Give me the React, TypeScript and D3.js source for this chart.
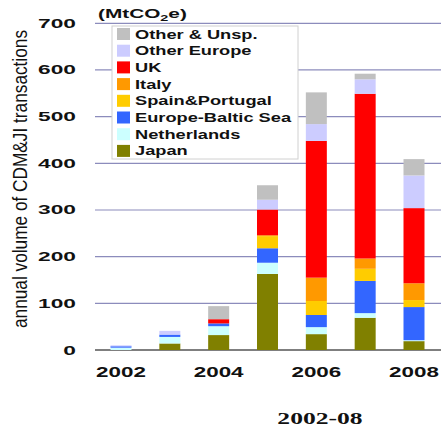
import * as d3 from "d3";

const years = [2002, 2003, 2004, 2005, 2006, 2007, 2008];
const xTicks = [2002, 2004, 2006, 2008];
const yTicks = [0, 100, 200, 300, 400, 500, 600, 700];

// stacking order bottom -> top
const seriesNames = [
  "Japan",
  "Netherlands",
  "Europe-Baltic Sea",
  "Spain&Portugal",
  "Italy",
  "UK",
  "Other Europe",
  "Other & Unsp.",
];
const seriesColors = [
  "#808000",
  "#ccffff",
  "#3366ff",
  "#ffcc00",
  "#ff9900",
  "#ff0000",
  "#ccccff",
  "#c0c0c0",
];

const japan = [0, 14, 32, 163, 34, 69, 19];
const netherlands = [5, 14, 19, 24, 15, 10, 2];
const baltic = [3, 5, 6, 31, 26, 69, 71];
const spain = [0, 0, 0, 26, 30, 26, 15];
const italy = [0, 0, 0, 2, 50, 22, 36];
const uk = [0, 0, 9, 55, 293, 353, 161];
const otherEurope = [2, 8, 0, 21, 36, 31, 70];
const other = [0, 0, 28, 31, 68, 12, 35];

const seriesValues = [japan, netherlands, baltic, spain, italy, uk, otherEurope, other];

const W = 441;
const H = 430;
const SX = 1.6; // horizontal stretch of the source image

export default function App() {
  const x = d3.scaleLinear().domain([2002, 2008]).range([121, 414]);
  const y = d3.scaleLinear().domain([0, 700]).range([350, 23.3]);
  const barW = 21;

  const rows = years.map((yr, i) => {
    const r: Record<string, number> = { year: yr };
    seriesNames.forEach((n, k) => (r[n] = seriesValues[k][i]));
    return r;
  });
  const stack = d3.stack<Record<string, number>>().keys(seriesNames)(rows);

  const legendOrder = [...seriesNames].reverse();

  return (
    <svg
      width={W}
      height={H}
      style={{ position: "absolute", left: 0, top: 0, background: "#fff" }}
      fontFamily="Liberation Sans, Arial, sans-serif"
    >
      {/* grid */}
      {yTicks.map((t) => (
        <line
          key={t}
          x1={95}
          x2={441}
          y1={y(t)}
          y2={y(t)}
          stroke={t === 0 ? "#000" : "#8c8cbc"}
          strokeWidth={t === 0 ? 1.2 : 1.2}
        />
      ))}
      {/* y tick labels */}
      {yTicks.map((t) => (
        <text
          key={t}
          transform={`translate(76,${y(t) + 4.5}) scale(1.75,1)`}
          textAnchor="end"
          fontSize={13}
          fontWeight="bold"
          fill="#111"
        >
          {t}
        </text>
      ))}
      {/* bars */}
      {stack.map((layer, k) => (
        <g key={layer.key} fill={seriesColors[k]}>
          {layer.map((d, i) =>
            d[1] - d[0] > 0 ? (
              <rect
                key={i}
                x={x(years[i]) - barW / 2}
                width={barW}
                y={y(d[1])}
                height={y(d[0]) - y(d[1])}
              />
            ) : null
          )}
        </g>
      ))}
      {/* legend */}
      <rect x={112} y={26} width={186} height={133} fill="#fff" stroke="#d0d0d0" />
      {legendOrder.map((n, i) => {
        const k = seriesNames.indexOf(n);
        const cy = 34 + i * 16.7;
        return (
          <g key={n}>
            <rect x={117} y={cy - 6} width={13} height={12} fill={seriesColors[k]} />
            <text
              transform={`translate(135,${cy + 4.5}) scale(1.46,1)`}
              fontSize={12.5}
              fontWeight="bold"
              fill="#111"
            >
              {n}
            </text>
          </g>
        );
      })}
      {/* unit */}
      <text
        transform={`translate(98,18) scale(1.6,1)`}
        fontSize={13}
        fontWeight="bold"
        fill="#111"
      >
        (MtCO
        <tspan fontSize={9} dy={3}>
          2
        </tspan>
        <tspan dy={-3}>e)</tspan>
      </text>
      {/* x tick labels */}
      {xTicks.map((t) => (
        <text
          key={t}
          transform={`translate(${x(t)},377) scale(${SX},1)`}
          textAnchor="middle"
          fontSize={14}
          fontWeight="bold"
          fill="#111"
        >
          {t}
        </text>
      ))}
      {/* y-axis title */}
      <text
        transform="translate(27,179) scale(1.3,1) rotate(-90)"
        textAnchor="middle"
        fontSize={15}
        textLength={298}
        lengthAdjust="spacingAndGlyphs"
        fill="#111"
      >
        annual volume of CDM&amp;JI transactions
      </text>
      {/* bottom title */}
      <text
        transform={`translate(320,424) scale(${SX},1)`}
        textAnchor="middle"
        fontSize={16}
        fontWeight="bold"
        fontFamily="Liberation Serif, Times New Roman, serif"
        fill="#111"
      >
        2002-08
      </text>
    </svg>
  );
}
